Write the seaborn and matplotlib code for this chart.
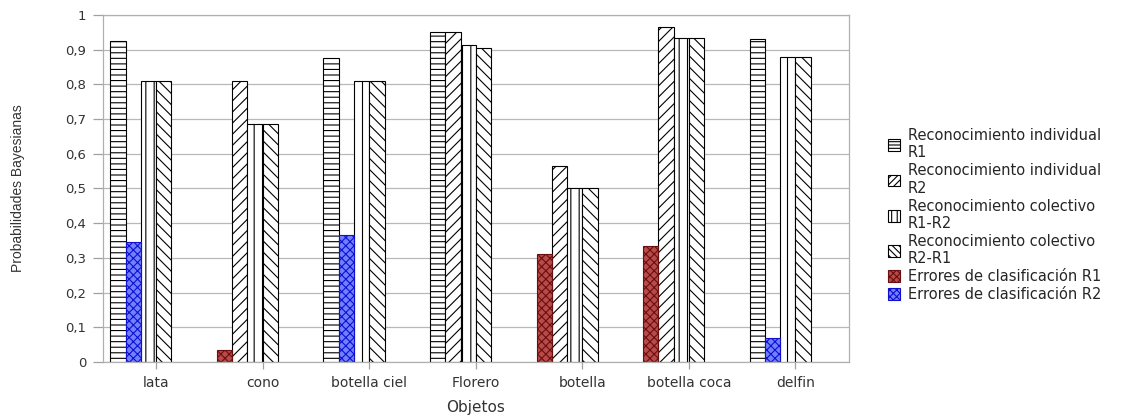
import numpy as np
import pandas as pd
import matplotlib
matplotlib.use("Agg")
import matplotlib.pyplot as plt
from matplotlib.patches import Patch
import seaborn as sns

# datos
objetos = ["lata", "cono", "botella ciel", "Florero", "botella", "botella coca", "delfin"]

ind_r1 = [0.925, 0.0, 0.875, 0.95, 0.0, 0.0, 0.93]
ind_r2 = [0.0, 0.81, 0.0, 0.95, 0.565, 0.965, 0.0]
col_r1r2 = [0.81, 0.685, 0.81, 0.915, 0.50, 0.935, 0.88]
col_r2r1 = [0.81, 0.685, 0.81, 0.905, 0.50, 0.935, 0.88]
err_r1 = [0.0, 0.035, 0.0, 0.0, 0.31, 0.335, 0.0]
err_r2 = [0.345, 0.0, 0.365, 0.0, 0.0, 0.0, 0.07]

rec_names = ["Reconocimiento individual\nR1", "Reconocimiento individual\nR2",
             "Reconocimiento colectivo\nR1-R2", "Reconocimiento colectivo\nR2-R1"]
err_names = ["Errores de clasificación R1", "Errores de clasificación R2"]

yticks = [0, 0.1, 0.2, 0.3, 0.4, 0.5, 0.6, 0.7, 0.8, 0.9, 1]
ytick_labels = ["0", "0,1", "0,2", "0,3", "0,4", "0,5", "0,6", "0,7", "0,8", "0,9", "1"]

zeros = [0.0] * len(objetos)


def to_long(names, columns):
    rows = []
    for name, vals in zip(names, columns):
        for obj, v in zip(objetos, vals):
            rows.append({"objeto": obj, "serie": name, "valor": v})
    return pd.DataFrame(rows)


# 6 huecos por grupo; los huecos vacios se rellenan con ceros
dummies = ["_d1", "_d2", "_d3", "_d4"]
rec_order = rec_names + dummies[:2]
err_order = err_names + dummies
df_rec = to_long(rec_order, [ind_r1, ind_r2, col_r1r2, col_r2r1, zeros, zeros])
df_err = to_long(err_order, [err_r1, err_r2, zeros, zeros, zeros, zeros])

sns.set_style("white")
plt.rcParams["font.family"] = ["DejaVu Sans"]
plt.rcParams["hatch.linewidth"] = 0.8

fig = plt.figure(figsize=(11.35, 4.17), dpi=100)
ax = fig.add_axes([0.0907, 0.132, 0.657, 0.832])

WIDTH = 0.86
SW = WIDTH / 6

rec_hatch = ["---", "///", "||", "\\\\\\"]
leg_hatch = ["-----", "/////", "|||", "\\\\\\\\\\"]
err_face = ["#b84a4a", "#7080ff"]
err_edge = ["#6a0f0f", "#1010d0"]


def slot_of(p):
    xc = p.get_x() + p.get_width() / 2
    return int(round((xc - round(xc)) / SW + 2.5))


pal = {k: "white" for k in rec_order}
n0 = len(ax.patches)
sns.barplot(data=df_rec, x="objeto", y="valor", hue="serie", order=objetos,
            hue_order=rec_order, palette=pal, width=WIDTH, saturation=1,
            errorbar=None, legend=False, edgecolor="black", linewidth=0.8, ax=ax)
for p in ax.patches[n0:]:
    if p.get_height() <= 0:
        p.set_visible(False)
        continue
    p.set_hatch(rec_hatch[slot_of(p)])
    p.set_edgecolor("black")

pal2 = {k: "white" for k in err_order}
pal2[err_names[0]] = err_face[0]
pal2[err_names[1]] = err_face[1]
n1 = len(ax.patches)
sns.barplot(data=df_err, x="objeto", y="valor", hue="serie", order=objetos,
            hue_order=err_order, palette=pal2, width=WIDTH, saturation=1,
            errorbar=None, legend=False, linewidth=0.8, ax=ax)
for p in ax.patches[n1:]:
    if p.get_height() <= 0:
        p.set_visible(False)
        continue
    p.set_hatch("xxxx")
    p.set_edgecolor(err_edge[min(slot_of(p), 1)])

ax.set_ylim(0, 1)
ax.set_xlim(-0.5, len(objetos) - 0.5)
ax.set_yticks(yticks)
ax.set_yticklabels(ytick_labels)
ax.yaxis.grid(True, color="#b8b8b8", linewidth=0.9)
ax.set_axisbelow(True)
for s in ax.spines.values():
    s.set_color("#b0b0b0")
    s.set_linewidth(0.9)
ax.tick_params(axis="y", left=True, labelsize=9.5, length=7, width=0.9, pad=5,
               color="#a0a0a0", labelcolor="#333333")
ax.tick_params(axis="x", bottom=True, labelsize=10, length=5, width=0.9, pad=5,
               color="#a0a0a0", labelcolor="#333333")
ax.set_xlabel("Objetos", fontsize=11, color="#333333", labelpad=7)
ax.set_ylabel("Probabilidades Bayesianas", fontsize=10, color="#333333",
              family=["Liberation Sans", "DejaVu Sans"])
ax.yaxis.set_label_coords(-0.105, 0.5)

handles = []
for h in leg_hatch:
    handles.append(Patch(facecolor="white", edgecolor="black", hatch=h, linewidth=0.8))
for f, e in zip(err_face, err_edge):
    handles.append(Patch(facecolor=f, edgecolor=e, hatch="xxxxx", linewidth=0.8))
fig.legend(handles, rec_names + err_names, loc="center left",
           bbox_to_anchor=(0.776, 0.484), frameon=False, fontsize=10.5,
           handlelength=0.85, handleheight=0.85, handletextpad=0.5,
           labelspacing=0.2, borderpad=0)

fig.savefig("out.png", dpi=100)
